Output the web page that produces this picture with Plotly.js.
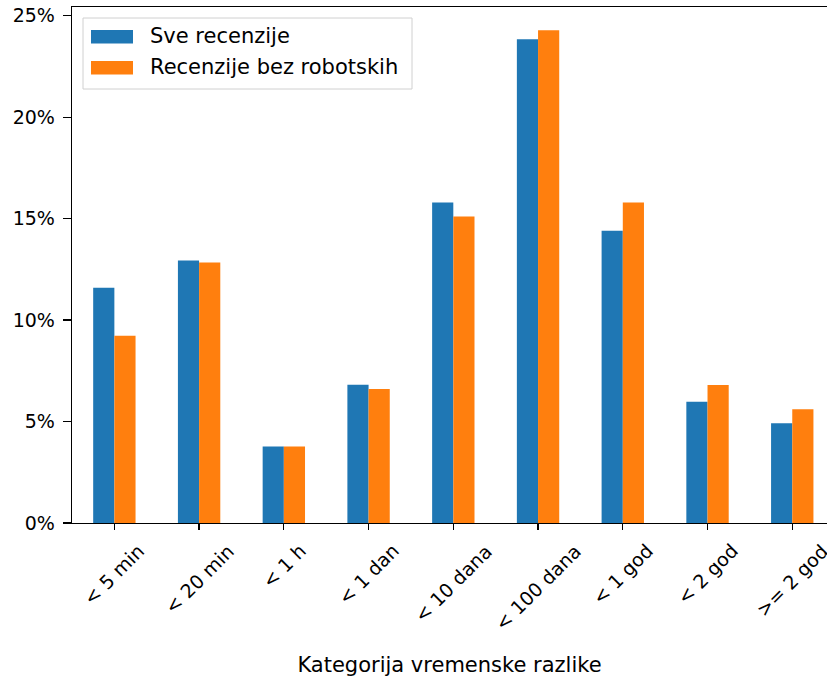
<!DOCTYPE html>
<html>
<head>
<meta charset="utf-8">
<script src="https://cdn.plot.ly/plotly-3.0.1.min.js"></script>
<style>html,body{margin:0;padding:0;background:#fff;}#chart{width:827px;height:681px;}</style>
</head>
<body>
<div id="chart"></div>
<script>
const categories = ["< 5 min", "< 20 min", "< 1 h", "< 1 dan", "< 10 dana", "< 100 dana", "< 1 god", "< 2 god", ">= 2 god"];
const seriesNames = ["Sve recenzije", "Recenzije bez robotskih"];
const sveRecenzije = [11.59, 12.94, 3.77, 6.81, 15.79, 23.84, 14.40, 5.98, 4.92];
const bezRobotskih = [9.23, 12.84, 3.77, 6.60, 15.10, 24.28, 15.79, 6.80, 5.61];
const yTicks = [0, 5, 10, 15, 20, 25];
const xTitle = "Kategorija vremenske razlike";

const colors = ["#1f77b4", "#ff7f0e"];
const FONT = "DejaVu Sans, sans-serif";

const traces = [sveRecenzije, bezRobotskih].map((vals, i) => ({
  type: "bar",
  x: categories.map((c, k) => k),
  y: vals,
  name: seriesNames[i],
  marker: { color: colors[i], line: { width: 0 } },
  hoverinfo: "skip"
}));

const annotations = [];
categories.forEach((c, k) => {
  annotations.push({
    text: c, x: k, xref: "x", y: 0, yref: "paper",
    xanchor: "center", yanchor: "top", textangle: -45, yshift: -14,
    showarrow: false, font: { family: FONT, size: 19, color: "#000" }
  });
});

const shapes = [{
  type: "rect", xref: "paper", yref: "paper", xsizemode: "pixel", ysizemode: "pixel",
  xanchor: 0, yanchor: 1, x0: 11, x1: 340, y0: -11, y1: -82,
  line: { color: "#d0d0d0", width: 1 }, fillcolor: "rgba(255,255,255,0.8)", layer: "above"
}];
seriesNames.forEach((n, i) => {
  const top = i === 0 ? -23 : -54;
  shapes.push({
    type: "rect", xref: "paper", yref: "paper", xsizemode: "pixel", ysizemode: "pixel",
    xanchor: 0, yanchor: 1, x0: 19, x1: 61, y0: top, y1: top - 13.5,
    line: { width: 0 }, fillcolor: colors[i], layer: "above"
  });
  annotations.push({
    text: n, xref: "paper", yref: "paper", x: 0, y: 1, xanchor: "left", yanchor: "middle",
    xshift: 76, yshift: i === 0 ? -29 : -60, showarrow: false,
    font: { family: FONT, size: 21, color: "#000" }
  });
});

const layout = {
  width: 827, height: 681,
  margin: { l: 72, r: 0, t: 7, b: 158 },
  paper_bgcolor: "#fff", plot_bgcolor: "#fff",
  font: { family: FONT, size: 19, color: "#000" },
  showlegend: false,
  barmode: "group", bargap: 0.5, bargroupgap: 0,
  xaxis: {
    range: [-0.5, 8.41], tickmode: "array", tickvals: categories.map((c, k) => k),
    showticklabels: false, ticks: "outside", ticklen: 6, tickwidth: 1.3, tickcolor: "#000",
    showline: true, linecolor: "#000", linewidth: 1.3, mirror: true,
    showgrid: false, zeroline: false,
    title: { text: xTitle, font: { family: FONT, size: 21, color: "#000" }, standoff: 128 }
  },
  yaxis: {
    range: [0, 25.43], tickmode: "array", tickvals: yTicks, ticktext: yTicks.map(v => v + "%"),
    ticks: "outside", ticklen: 8, tickwidth: 1.3, tickcolor: "#000", ticklabelstandoff: 4,
    tickfont: { family: FONT, size: 19, color: "#000" },
    showline: true, linecolor: "#000", linewidth: 1.3, mirror: false,
    showgrid: false, zeroline: false
  },
  shapes: shapes,
  annotations: annotations
};

Plotly.newPlot("chart", traces, layout, { staticPlot: true, displayModeBar: false });
</script>
</body>
</html>
